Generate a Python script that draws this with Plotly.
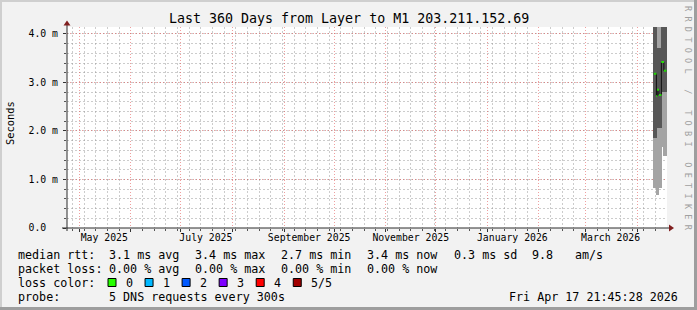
import pandas as pd
import plotly.graph_objects as go

# ---------------- data ----------------
title_text = "Last 360 Days from Layer to M1 203.211.152.69"
x_start, x_end = "2025-04-23 14:45", "2026-04-18 20:45"

step_times = ["2026-04-11 06:00", "2026-04-11 18:00", "2026-04-12 06:00",
              "2026-04-12 18:00", "2026-04-13 06:00", "2026-04-13 18:00",
              "2026-04-14 06:00", "2026-04-14 18:00", "2026-04-15 06:00",
              "2026-04-15 18:00", "2026-04-16 06:00", "2026-04-16 18:00",
              "2026-04-17 06:00", "2026-04-17 18:00", "2026-04-18 06:00"]
# round-trip times in milliseconds
rtt_min = [0.82, 0.82, 0.82, 0.68, 0.68, 0.72, 0.82, 0.82, 0.82, 1.67, 1.67, 1.67, 1.48, 1.48, 1.48]
rtt_q1 = [1.86, 1.86, 1.86, 2.06, 2.06, 2.06, 2.06, 2.06, 2.06, 2.80, 2.80, 2.80, 2.80, 2.80, 2.80]
rtt_q3 = [4.40, 4.40, 4.40, 3.71, 3.71, 3.71, 3.71, 3.71, 3.71, 4.40, 4.40, 4.40, 4.40, 4.40, 4.40]
rtt_max = [4.40, 4.40, 4.40, 4.40, 4.40, 4.40, 4.40, 4.40, 4.40, 4.40, 4.40, 4.40, 4.40, 4.40, 4.40]
rtt_median = [3.18, 3.18, 3.18, 2.72, 2.85, 2.85, 2.74, 2.74, 2.74, 3.42, 3.42, 3.42, 3.24, 3.24, 3.24]

y_tick_vals = [0, 1, 2, 3, 4]
y_tick_text = ["0.0\u00a0\u00a0", "1.0 m", "2.0 m", "3.0 m", "4.0 m"]
x_label_vals = ["2025-05-16", "2025-07-16", "2025-09-16", "2025-11-16", "2026-01-16", "2026-03-16"]
x_label_text = ["May 2025", "July 2025", "September 2025", "November 2025", "January 2026", "March 2026"]

rtt_head = "median rtt:"
rtt_stats = ["3.1 ms avg", "3.4 ms max", "2.7 ms min", "3.4 ms now", "0.3 ms sd", "9.8", "am/s"]
loss_head = "packet loss:"
loss_stats = ["0.00 % avg", "0.00 % max", "0.00 % min", "0.00 % now"]
color_head = "loss color:"
loss_labels = ["0", "1", "2", "3", "4", "5/5"]
loss_colors = ["#26ff00", "#00b8ff", "#0059ff", "#7e00ff", "#ff0000", "#a10000"]
probe_head = "probe:"
probe_text = "5 DNS requests every 300s"
stamp_text = "Fri Apr 17 21:45:28 2026"
watermark = "RRDTOOL / TOBI OETIKER"

# ---------------- layout geometry (pixels) ----------------
W, H = 697, 310
PL, PR, PT, PB = 67, 667, 27, 228
MONO = "DejaVu Sans Mono"


def px(x):
    return (x - PL) / (PR - PL)


def py(y):
    return (PB - y) / (PB - PT)


STEP_MS = 12 * 3600 * 1000
times = pd.to_datetime(step_times)
half = pd.Timedelta(hours=6)

fig = go.Figure()
# smoke: outer (min..max) and inner (q1..q3)
fig.add_trace(go.Bar(x=times, base=rtt_min, y=[b - a for a, b in zip(rtt_min, rtt_max)],
                     width=STEP_MS, marker=dict(color="#a4a4a4", line_width=0),
                     showlegend=False, hoverinfo="skip"))
fig.add_trace(go.Bar(x=times, base=rtt_q1, y=[b - a for a, b in zip(rtt_q1, rtt_q3)],
                     width=STEP_MS, marker=dict(color="#575757", line_width=0),
                     showlegend=False, hoverinfo="skip"))

# median: dark step connectors + green level segments (0 loss)
edges = list(times - half) + [times[-1] + half]
fig.add_trace(go.Scatter(x=edges, y=rtt_median + [rtt_median[-1]], mode="lines",
                         line=dict(color="#111111", width=1, shape="hv"),
                         showlegend=False, hoverinfo="skip"))
gx, gy = [], []
for i, m in enumerate(rtt_median):
    gx += [edges[i], edges[i + 1], None]
    gy += [m, m, None]
fig.add_trace(go.Scatter(x=gx, y=gy, mode="lines", line=dict(color=loss_colors[0], width=2),
                         showlegend=False, hoverinfo="skip", connectgaps=False))

minor_dash = "2px,2px"
major_dash = "1px,2px"
minor_grid = "rgba(143,143,143,0.45)"
major_grid = "rgba(225,80,80,0.55)"

fig.update_layout(
    width=W, height=H,
    margin=dict(l=PL, r=W - PR, t=PT, b=H - PB, pad=0),
    paper_bgcolor="#f2f2f2", plot_bgcolor="#ffffff",
    barmode="overlay", bargap=0,
    showlegend=False,
    xaxis=dict(
        type="date", range=[x_start, x_end],
        showgrid=True, gridcolor=major_grid, griddash=major_dash, gridwidth=1,
        dtick="M1", tick0="2025-05-01",
        ticks="outside", ticklen=3, tickcolor="#333333", tickwidth=1,
        showticklabels=False, showline=False, zeroline=False,
        minor=dict(dtick=7 * 86400000, tick0="2025-04-27", showgrid=True,
                   gridcolor=minor_grid, griddash=minor_dash, gridwidth=1,
                   ticks="outside", ticklen=2, tickcolor="#555555"),
        layer="below traces",
    ),
    xaxis2=dict(
        type="date", overlaying="x", matches="x", anchor="y", side="bottom",
        tickmode="array", tickvals=x_label_vals, ticktext=x_label_text,
        showgrid=False, ticks="", showline=False, zeroline=False,
        tickfont=dict(family=MONO, size=9.8, color="#000000"),
        ticklabelstandoff=2,
    ),
    yaxis=dict(
        range=[0, 4.144], tickmode="array", tickvals=y_tick_vals, ticktext=y_tick_text,
        showgrid=True, gridcolor=major_grid, griddash=major_dash, gridwidth=1,
        ticks="outside", ticklen=3, tickcolor="#333333",
        tickfont=dict(family=MONO, size=9.8, color="#000000"),
        ticklabelstandoff=3,
        showline=False, zeroline=False,
        minor=dict(dtick=0.2, tick0=0, showgrid=True, gridcolor=minor_grid,
                   griddash=minor_dash, gridwidth=1, ticks="outside", ticklen=2,
                   tickcolor="#555555"),
        layer="below traces",
    ),
)
# dummy trace so xaxis2 is drawn
fig.add_trace(go.Scatter(x=[x_start], y=[None], xaxis="x2", showlegend=False, hoverinfo="skip"))

shapes = []
# frame shading
shapes.append(dict(type="rect", xref="paper", yref="paper", x0=px(0), x1=px(W), y0=py(0), y1=py(2),
                   fillcolor="#cfcfcf", line_width=0, layer="below"))
shapes.append(dict(type="rect", xref="paper", yref="paper", x0=px(0), x1=px(2), y0=py(0), y1=py(H),
                   fillcolor="#cfcfcf", line_width=0, layer="below"))
shapes.append(dict(type="rect", xref="paper", yref="paper", x0=px(0), x1=px(W), y0=py(H - 3), y1=py(H),
                   fillcolor="#9e9e9e", line_width=0, layer="below"))
shapes.append(dict(type="rect", xref="paper", yref="paper", x0=px(W - 3), x1=px(W), y0=py(0), y1=py(H),
                   fillcolor="#9e9e9e", line_width=0, layer="below"))
# axes lines
shapes.append(dict(type="line", xref="paper", yref="paper", x0=px(62), x1=px(669), y0=0, y1=0,
                   line=dict(color="#2a2a2a", width=1)))
shapes.append(dict(type="line", xref="paper", yref="paper", x0=0, x1=0, y0=py(231), y1=py(25),
                   line=dict(color="#2a2a2a", width=1)))
# arrows
shapes.append(dict(type="path", xref="paper", yref="paper",
                   path=f"M {px(674)} {py(228)} L {px(669)} {py(224.5)} L {px(669)} {py(231.5)} Z",
                   fillcolor="#801f1f", line_width=0))
shapes.append(dict(type="path", xref="paper", yref="paper",
                   path=f"M {px(67)} {py(20.5)} L {px(63.5)} {py(25.5)} L {px(70.5)} {py(25.5)} Z",
                   fillcolor="#801f1f", line_width=0))

ann = []


def text(x, y, s, size=11.7, anchor="left", color="#000000", family=MONO, **kw):
    ann.append(dict(x=px(x), y=py(y), xref="paper", yref="paper", text=s, showarrow=False,
                    xanchor=anchor, yanchor="middle", font=dict(family=family, size=size, color=color),
                    **kw))


text(W / 2, 19, title_text, size=13.3, anchor="center")
text(10, 123, "Seconds", size=10.4, anchor="center", textangle=-90)
text(688, 120, f'<span style="letter-spacing:5.3px">{watermark}</span>', size=8.5,
     anchor="center", color="#a0a0a0", textangle=90)

text(16, 254.5, rtt_head)
for s, x in zip(rtt_stats, [107, 193, 279, 365, 452, 530, 573]):
    text(x, 254.5, s)
text(16, 268.5, loss_head)
for s, x in zip(loss_stats, [107, 193, 279, 365]):
    text(x, 268.5, s)
text(16, 282.5, color_head)
for i, (lab, col) in enumerate(zip(loss_labels, loss_colors)):
    bx = 108 + 37.05 * i
    shapes.append(dict(type="rect", xref="paper", yref="paper", x0=px(bx), x1=px(bx + 8),
                       y0=py(278.5), y1=py(286.5), fillcolor=col, line=dict(color="#000000", width=1)))
    text(bx + 16, 282.5, lab)
text(16, 296.5, probe_head)
text(107, 296.5, probe_text)
text(680, 296.5, stamp_text, anchor="right")

fig.update_layout(shapes=shapes, annotations=ann)
fig.write_html("out.html")
